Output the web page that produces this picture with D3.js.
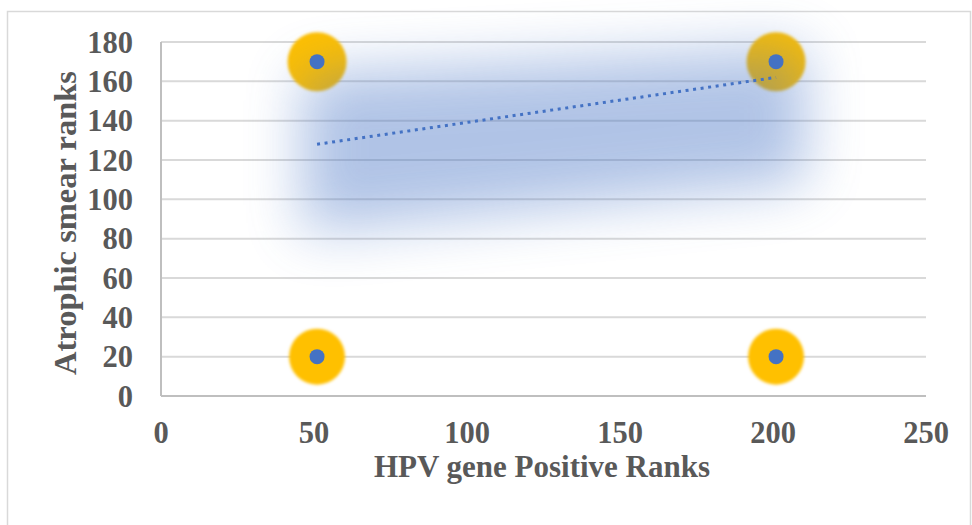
<!DOCTYPE html>
<html>
<head>
<meta charset="utf-8">
<script src="https://cdn.jsdelivr.net/npm/d3@7"></script>
<style>
  html, body { margin: 0; padding: 0; background: #fff; }
  svg text { font-family: "Liberation Serif", "Times New Roman", serif; font-weight: bold; fill: #595959; }
</style>
</head>
<body>
<div id="chart"></div>
<script>
// scatter points (HPV gene positive rank vs atrophic smear rank)
var pointX = [51, 201, 51, 201];
var pointY = [170, 170, 20, 20];

// linear trendline end points as drawn
var trendX = [51, 201];
var trendY = [128, 162];

var xTicks = [0, 50, 100, 150, 200, 250];
var yTicks = [0, 20, 40, 60, 80, 100, 120, 140, 160, 180];

var xTitle = "HPV gene Positive Ranks";
var yTitle = "Atrophic smear ranks";

var width = 972, height = 525
  , margin = {top: 42, right: 46, bottom: 129, left: 161}
  , glowColor = "#ffc000"
  , markerColor = "#4472c4"
  , gridColor = "#d9d9d9";

var svg = d3.select("#chart").append("svg")
    .attr("width", width)
    .attr("height", height);

var defs = svg.append("defs");
defs.append("filter").attr("id", "softEdge")
    .attr("x", "-50%").attr("y", "-50%").attr("width", "200%").attr("height", "200%")
  .append("feGaussianBlur").attr("stdDeviation", 1.6);
defs.append("filter").attr("id", "bigGlow")
    .attr("x", "-50%").attr("y", "-80%").attr("width", "200%").attr("height", "260%")
  .append("feGaussianBlur").attr("stdDeviation", 28);

// outer chart frame
svg.append("rect")
    .attr("x", 7.5).attr("y", 11.5)
    .attr("width", 963).attr("height", 530)
    .style("fill", "none")
    .style("stroke", "#d9d9d9")
    .style("stroke-width", 1.5);

var xScale = d3.scaleLinear().domain([0, 250]).range([margin.left, width - margin.right]);
var yScale = d3.scaleLinear().domain([0, 180]).range([height - margin.bottom, margin.top]);

var g = svg.append("g");

// gridlines
g.append("g").selectAll("line")
    .data(yTicks.filter(function(d) { return d > 0; }))
    .enter().append("line")
    .attr("x1", xScale(0)).attr("x2", xScale(250))
    .attr("y1", function(d) { return yScale(d); })
    .attr("y2", function(d) { return yScale(d); })
    .style("stroke", gridColor)
    .style("stroke-width", 2);

// axis lines
g.append("line")
    .attr("x1", xScale(0)).attr("x2", xScale(250))
    .attr("y1", yScale(0)).attr("y2", yScale(0))
    .style("stroke", "#bfbfbf").style("stroke-width", 2);
g.append("line")
    .attr("x1", xScale(0)).attr("x2", xScale(0))
    .attr("y1", yScale(0)).attr("y2", yScale(180))
    .style("stroke", "#bfbfbf").style("stroke-width", 2);

// tick labels
g.append("g").selectAll("text")
    .data(yTicks).enter().append("text")
    .attr("x", 133)
    .attr("y", function(d) { return yScale(d); })
    .attr("dy", "0.35em")
    .attr("text-anchor", "end")
    .style("font-size", "30.5px")
    .text(function(d) { return d; });

g.append("g").selectAll("text")
    .data(xTicks).enter().append("text")
    .attr("x", function(d) { return xScale(d); })
    .attr("y", 443)
    .attr("text-anchor", "middle")
    .style("font-size", "30.5px")
    .text(function(d) { return d; });

// axis titles
svg.append("text")
    .attr("x", 542).attr("y", 477)
    .attr("text-anchor", "middle")
    .style("font-size", "31px")
    .text(xTitle);

svg.append("text")
    .attr("transform", "translate(76,223) rotate(-90)")
    .attr("text-anchor", "middle")
    .style("font-size", "32.5px")
    .text(yTitle);

// points: yellow glow + blue marker
var pts = pointX.map(function(d, i) { return {x: d, y: pointY[i]}; });

g.append("g").selectAll("circle")
    .data(pts).enter().append("circle")
    .attr("cx", function(d) { return xScale(d.x); })
    .attr("cy", function(d) { return yScale(d.y); })
    .attr("r", function(d) { return d.y > 100 ? 29.5 : 28; })
    .style("fill", glowColor)
    .attr("filter", "url(#softEdge)");

// trendline glow
var tx0 = xScale(trendX[0]), tx1 = xScale(trendX[1])
  , ty0 = yScale(trendY[0]), ty1 = yScale(trendY[1]);
g.append("path")
    .attr("d", "M" + (tx0 - 15) + "," + (ty0 - 70) +
               "L" + (tx1 + 30) + "," + (ty1 - 30) +
               "L" + (tx1 + 30) + "," + (ty1 + 105) +
               "L" + (tx0 - 15) + "," + (ty0 + 88) + "Z")
    .style("fill", markerColor)
    .style("opacity", 0.42)
    .attr("filter", "url(#bigGlow)");

g.append("g").selectAll("circle")
    .data(pts).enter().append("circle")
    .attr("cx", function(d) { return xScale(d.x); })
    .attr("cy", function(d) { return yScale(d.y); })
    .attr("r", 7.5)
    .style("fill", markerColor);

// dotted trendline
g.append("line")
    .attr("x1", tx0).attr("y1", ty0)
    .attr("x2", tx1).attr("y2", ty1)
    .style("stroke", markerColor)
    .style("stroke-width", 3)
    .style("stroke-dasharray", "3,4.6");
</script>
</body>
</html>
